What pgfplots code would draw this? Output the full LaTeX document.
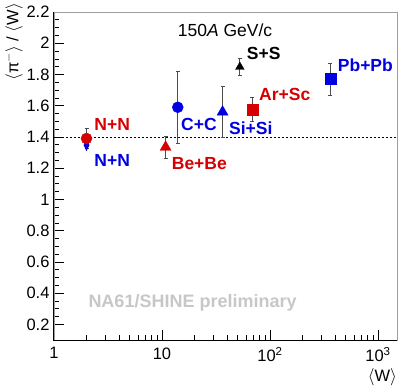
\documentclass[border=0pt]{standalone}
\usepackage{fontspec}
\setmainfont{Liberation Sans}
\usepackage{pgfplots}
\pgfplotsset{compat=1.18}
\definecolor{rootred}{RGB}{215,0,0}
\definecolor{rootblue}{RGB}{0,0,225}
\newcommand{\lbl}{\fontsize{17.5}{20}\selectfont\bfseries}
\begin{document}
\begin{tikzpicture}
\begin{axis}[
  scale only axis, width=343pt, height=328pt,
  xmode=log, xmin=1, xmax=1500, ymin=0.1, ymax=2.2,
  clip=false,
  xtick={1,10,100,1000},
  xticklabels={1,10,10\textsuperscript{2},10\textsuperscript{3}},
  minor xtick={2,3,4,5,6,7,8,9,20,30,40,50,60,70,80,90,200,300,400,500,600,700,800,900},
  ytick={0.2,0.4,0.6,0.8,1,1.2,1.4,1.6,1.8,2,2.2},
  minor y tick num=3,
  tick pos=left, tick align=inside,
  major tick length=10pt, minor tick length=5pt,
  every tick/.style={black, line width=0.7pt},
  axis line style={draw=gray!75, line width=0.8pt},
  ticklabel style={font=\fontsize{16.5}{18}\selectfont},
  xticklabel style={yshift=-4pt},
  yticklabel style={xshift=-1pt},
  /pgf/number format/.cd, fixed, precision=1, assume math mode=true,
]
% reference line
\addplot[black, line width=0.6pt, dash pattern=on 2pt off 2pt, forget plot]
  coordinates {(1,1.395) (1500,1.395)};

\pgfplotsset{every error bar/.style={black!70, line width=0.9pt},
  myerr/.style={error bars/.cd, y dir=both, y explicit,
    error mark options={rotate=90, mark size=2pt, black!70, line width=0.9pt}}}

% N+N (blue diamond)
\addplot[only marks, mark=diamond*, mark size=5.5pt, color=rootblue,
  mark options={xscale=0.65}, myerr]
  coordinates {(2,1.348) +- (0,0.01)};
% N+N (red circle)
\addplot[only marks, mark=*, mark size=5.5pt, color=rootred, myerr]
  coordinates {(2,1.39) +- (0,0.065)};
% Be+Be
\addplot[only marks, mark=triangle*, mark size=6.3pt, color=rootred, myerr]
  coordinates {(10.8,1.335) +- (0,0.07)};
% C+C
\addplot[only marks, mark=*, mark size=5.5pt, color=rootblue, myerr]
  coordinates {(14,1.59) +- (0,0.232)};
% Si+Si
\addplot[only marks, mark=triangle*, mark size=6.3pt, color=rootblue, myerr]
  coordinates {(36.4,1.56) +- (0,0.165)};
% S+S
\addplot[only marks, mark=triangle*, mark size=5pt, color=black, myerr]
  coordinates {(52.6,1.848) +- (0,0.055)};
% Ar+Sc
\addplot[only marks, mark=square*, mark size=5.5pt, color=rootred, myerr]
  coordinates {(68.7,1.577) +- (0,0.078)};
% Pb+Pb
\addplot[only marks, mark=square*, mark size=5.5pt, color=rootblue, myerr]
  coordinates {(362,1.77) +- (0,0.102)};

% frame: black left and bottom axes
\draw[black, line width=1pt] (rel axis cs:0,1) -- (rel axis cs:0,0) -- (rel axis cs:1,0);

% annotations
\node[anchor=base west, inner sep=0pt, font=\fontsize{17.5}{20}\selectfont]
  at (rel axis cs:0.3606,0.9238) {150\textit{A} GeV/c};
\node[anchor=base west, inner sep=0pt, font=\lbl] at (rel axis cs:0.5618,0.8555) {S+S};
\node[anchor=base west, inner sep=0pt, font=\lbl, text=rootblue] at (rel axis cs:0.8271,0.8171) {Pb+Pb};
\node[anchor=base west, inner sep=0pt, font=\lbl, text=rootred] at (rel axis cs:0.5977,0.7287) {Ar+Sc};
\node[anchor=base west, inner sep=0pt, font=\lbl, text=rootblue] at (rel axis cs:0.5102,0.6271) {Si+Si};
\node[anchor=base west, inner sep=0pt, font=\lbl, text=rootblue] at (rel axis cs:0.3703,0.6402) {C+C};
\node[anchor=base west, inner sep=0pt, font=\lbl, text=rootred] at (rel axis cs:0.3431,0.5204) {Be+Be};
\node[anchor=base west, inner sep=0pt, font=\lbl, text=rootred] at (rel axis cs:0.1175,0.6402) {N+N};
\node[anchor=base west, inner sep=0pt, font=\lbl, text=rootblue] at (rel axis cs:0.1175,0.5284) {N+N};
\node[anchor=base west, inner sep=0pt, font=\fontsize{18}{20}\selectfont\bfseries, text=black!22]
  at (rel axis cs:0.1,0.0985) {NA61/SHINE preliminary};

% axis titles
\node[anchor=north east, inner sep=0pt, font=\fontsize{16.5}{18}\selectfont]
  at ([yshift=-28pt]rel axis cs:1,0) {$\langle$W$\rangle$};
\node[rotate=90, anchor=east, inner sep=0pt, font=\fontsize{16.5}{18}\selectfont]
  at ([xshift=-40pt,yshift=9pt]rel axis cs:0,1) {$\langle$π$^{-}\rangle$ / $\langle$W$\rangle$};

\coordinate (bl) at ([xshift=-54pt,yshift=-43pt]rel axis cs:0,0);
\coordinate (tr) at ([xshift=2pt,yshift=12pt]rel axis cs:1,1);
\end{axis}
\path (bl) rectangle (tr);
\end{tikzpicture}
\end{document}
